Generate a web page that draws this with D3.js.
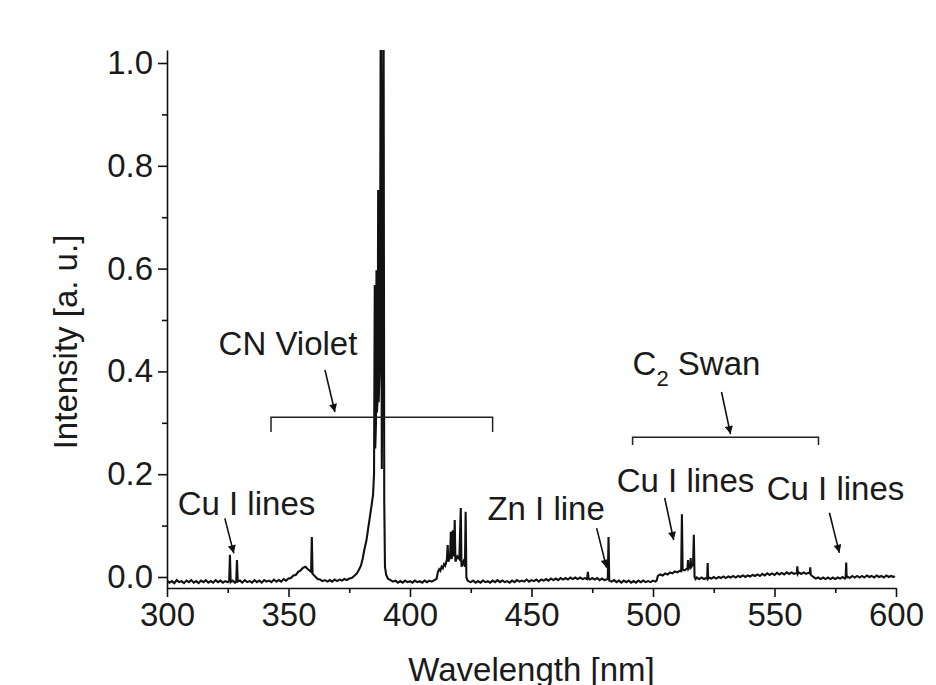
<!DOCTYPE html>
<html>
<head>
<meta charset="utf-8">
<script src="https://cdn.jsdelivr.net/npm/d3@7/dist/d3.min.js"></script>
<style>
  html, body { margin: 0; padding: 0; background: #fff; }
  svg { display: block; }
  text { font-family: "Liberation Sans", Arial, Helvetica, sans-serif; fill: #1a1a1a; }
</style>
</head>
<body>
<svg id="chart" width="936" height="685"></svg>
<script>
// ---- Data: [wavelength nm, intensity a.u.] ----
const spectrum = [
  [300,-0.007],[301,-0.011],[302,-0.008],[303,-0.012],[304,-0.006],[305,-0.010],[306,-0.008],[307,-0.012],
  [308,-0.007],[309,-0.010],[310,-0.006],[311,-0.011],[312,-0.008],[313,-0.012],[314,-0.007],[315,-0.010],
  [316,-0.006],[317,-0.011],[318,-0.008],[319,-0.011],[320,-0.006],[321,-0.010],[322,-0.007],[323,-0.011],
  [324,-0.008],[325,-0.010],[325.6,-0.007],[325.9,0.043],[326.2,-0.010],[327,-0.007],[328,-0.011],[328.5,-0.008],
  [328.8,0.033],[329.1,-0.009],[330,-0.007],[331,-0.011],[332,-0.006],[333,-0.010],[334,-0.008],[335,-0.011],
  [336,-0.006],[337,-0.010],[338,-0.007],[339,-0.011],[340,-0.006],[341,-0.009],[342,-0.007],[343,-0.010],
  [344,-0.005],[345,-0.009],[346,-0.006],[347,-0.009],[348,-0.004],[349,-0.007],[350,-0.003],[351,-0.002],
  [352,0.003],[353,0.004],[354,0.010],[355,0.013],[356,0.018],[357,0.020],[358,0.015],[359.3,0.010],
  [359.6,0.078],[359.9,0.006],[361,0.001],[362,-0.004],[363,-0.005],[364,-0.008],[365,-0.006],[366,-0.009],
  [367,-0.006],[368,-0.009],[369,-0.005],[370,-0.008],[371,-0.005],[372,-0.007],[373,-0.004],[374,-0.006],
  [375,-0.003],[376,-0.002],[377,0.002],[378,0.006],[379,0.014],[379.8,0.022],[380.5,0.035],[381.3,0.055],
  [382.1,0.072],[382.8,0.095],[383.5,0.117],[384.2,0.140],[384.8,0.160],[385.2,0.200],[385.5,0.568],[385.7,0.250],
  [386.0,0.300],[386.2,0.597],[386.4,0.320],[386.7,0.350],[386.9,0.753],[387.1,0.340],[387.6,0.420],[388.0,1.200],
  [388.4,0.210],[388.7,0.500],[389.1,1.200],[389.4,0.150],[389.7,0.020],[390.2,0.004],[391,-0.004],[392,-0.006],
  [393,-0.009],[394,-0.007],[395,-0.011],[396,-0.008],[397,-0.011],[398,-0.007],[399,-0.010],[400,-0.008],
  [401,-0.011],[402,-0.007],[403,-0.010],[404,-0.008],[405,-0.011],[406,-0.007],[407,-0.010],[408,-0.007],
  [409,-0.009],[410,-0.006],[410.9,-0.004],[411.5,0.010],[412,0.015],[412.5,0.012],[413,0.020],[413.5,0.017],
  [414,0.025],[414.5,0.022],[415.2,0.035],[415.5,0.062],[415.8,0.030],[416.5,0.040],[416.8,0.088],[417.1,0.035],
  [417.4,0.045],[417.6,0.091],[417.9,0.040],[418.2,0.050],[418.4,0.111],[418.7,0.030],[419.5,0.040],[420.3,0.035],
  [420.9,0.134],[421.2,0.020],[422.0,0.030],[422.6,0.020],[422.9,0.127],[423.2,0.000],[423.6,-0.006],[424,-0.008],
  [425,-0.010],[426,-0.007],[427,-0.011],[428,-0.008],[429,-0.011],[430,-0.007],[431,-0.010],[432,-0.008],
  [433,-0.011],[434,-0.007],[435,-0.010],[436,-0.006],[437,-0.010],[438,-0.007],[439,-0.010],[440,-0.008],
  [441,-0.011],[442,-0.007],[443,-0.010],[444,-0.006],[445,-0.009],[446,-0.007],[447,-0.009],[448,-0.005],
  [449,-0.009],[450,-0.006],[451,-0.008],[452,-0.005],[453,-0.009],[454,-0.005],[455,-0.007],[456,-0.004],
  [457,-0.007],[458,-0.003],[459,-0.006],[460,-0.003],[461,-0.006],[462,-0.002],[463,-0.005],[464,-0.002],
  [465,-0.005],[466,-0.001],[467,-0.004],[468,-0.001],[469,-0.004],[470,-0.001],[471,-0.004],[472,-0.002],
  [472.9,-0.004],[473.2,0.010],[473.5,-0.003],[474,-0.005],[475,-0.002],[476,-0.005],[477,-0.002],[478,-0.006],
  [479,-0.003],[480,-0.006],[481.4,-0.004],[481.7,0.078],[482.0,-0.007],[483,-0.009],[484,-0.006],[485,-0.010],
  [486,-0.007],[487,-0.011],[488,-0.007],[489,-0.010],[490,-0.007],[491,-0.011],[492,-0.008],[493,-0.011],
  [494,-0.007],[495,-0.010],[496,-0.007],[497,-0.010],[498,-0.008],[499,-0.010],[500,-0.007],[501,-0.009],
  [501.5,-0.007],[502,0.002],[503,0.005],[504,0.003],[505,0.007],[506,0.005],[507,0.009],[508,0.007],
  [509,0.011],[510,0.009],[511,0.012],[511.6,0.011],[511.9,0.122],[512.2,0.014],[513,0.013],[514.2,0.017],
  [514.4,0.033],[514.6,0.016],[515.3,0.021],[515.5,0.037],[515.7,0.019],[516.5,0.025],[516.8,0.082],[517.1,0.000],
  [517.5,-0.004],[518,-0.001],[519,-0.004],[520,-0.001],[521,-0.004],[522,-0.002],[522.3,-0.003],[522.5,0.027],
  [522.7,-0.003],[523,-0.001],[524,-0.003],[525,0.000],[526,-0.003],[527,0.000],[528,-0.002],[529,0.001],
  [530,-0.002],[531,0.001],[532,-0.001],[533,0.002],[534,-0.001],[535,0.002],[536,0.000],[537,0.003],
  [538,0.000],[539,0.003],[540,0.001],[541,0.004],[542,0.002],[543,0.005],[544,0.002],[545,0.006],
  [546,0.003],[547,0.007],[548,0.004],[549,0.007],[550,0.004],[551,0.008],[552,0.005],[553,0.008],
  [554,0.005],[555,0.009],[556,0.006],[557,0.009],[558,0.006],[559.2,0.008],[559.4,0.021],[559.6,0.006],
  [560,0.009],[561,0.006],[562,0.009],[563,0.006],[564,0.008],[564.5,0.007],[564.7,0.019],[564.9,0.005],
  [565.5,0.002],[566,0.000],[567,-0.003],[568,-0.001],[569,-0.004],[570,-0.001],[571,-0.004],[572,-0.001],
  [573,-0.004],[574,-0.001],[575,-0.004],[576,-0.001],[577,-0.003],[578,0.000],[579,-0.003],[579.3,-0.001],
  [579.5,0.028],[579.7,-0.002],[580,0.001],[581,-0.002],[582,0.002],[583,-0.001],[584,0.002],[585,-0.001],
  [586,0.002],[587,-0.001],[588,0.003],[589,0.000],[590,0.002],[591,-0.001],[592,0.003],[593,0.000],
  [594,0.002],[595,-0.001],[596,0.003],[597,0.000],[598,0.002],[599,0.000],[599.5,0.002]
];
const yMajorTicks = [0.0, 0.2, 0.4, 0.6, 0.8, 1.0];
const yMinorTicks = [0.1, 0.3, 0.5, 0.7, 0.9];
const xMajorTicks = [300, 350, 400, 450, 500, 550, 600];
const xMinorTicks = [325, 375, 425, 475, 525, 575];
const xTitle = "Wavelength [nm]";
const yTitle = "Intensity [a. u.]";

// annotation labels: text, wavelength, intensity (anchor = text centre/baseline)
const labelTexts = ["CN Violet", "Cu I lines", "Zn I line", "Cu I lines", "Cu I lines"];
const labelX     = [349.8, 332.7, 456.0, 513.4, 575.1];
const labelY     = [0.432, 0.121, 0.111, 0.165, 0.150];
// arrows: start (wavelength, intensity) -> end
const arrowX1 = [365.0, 323.8, 476.8, 504.8, 572.6, 528.2];
const arrowY1 = [0.403, 0.114, 0.095, 0.154, 0.125, 0.360];
const arrowX2 = [369.1, 327.5, 480.9, 508.5, 576.7, 531.9];
const arrowY2 = [0.321, 0.046, 0.018, 0.072, 0.047, 0.278];
// brackets: from, to, level, drop level
const bracketFrom = [342.8, 491.6];
const bracketTo   = [434.0, 568.1];
const bracketY    = [0.311, 0.272];
const bracketEnd  = [0.282, 0.257];
// C2 Swan label
const swanX = 491.6, swanY = 0.393;

// ---- Chart ----
const svg = d3.select("#chart");
const x = d3.scaleLinear().domain([300, 600]).range([167, 896]);
const y = d3.scaleLinear().domain([-0.0214, 1.0253]).range([588, 50]);

const defs = svg.append("defs");
defs.append("clipPath").attr("id", "plotclip")
  .append("rect").attr("x", x(300)).attr("y", y(1.0253))
  .attr("width", x(600) - x(300)).attr("height", y(-0.0214) - y(1.0253));

const marker = defs.append("marker")
  .attr("id", "arrowhead").attr("viewBox", "0 0 10 10")
  .attr("refX", 10).attr("refY", 5)
  .attr("markerWidth", 11).attr("markerHeight", 8)
  .attr("markerUnits", "userSpaceOnUse")
  .attr("orient", "auto");
marker.append("path").attr("d", "M0,0 L10,5 L0,10 Z").attr("fill", "#111");

const line = d3.line().x(d => x(d[0])).y(d => y(d[1]));

svg.append("path")
  .datum(spectrum)
  .attr("clip-path", "url(#plotclip)")
  .attr("d", line)
  .attr("fill", "none")
  .attr("stroke", "#111")
  .attr("stroke-width", 2.1)
  .attr("stroke-linejoin", "miter");

// Axes
const axisFont = 33;
svg.append("g").attr("transform", `translate(0,${y(-0.0214)})`)
  .call(d3.axisBottom(x).tickValues(xMajorTicks).tickSize(9).tickSizeOuter(0).tickPadding(6).tickFormat(d3.format("d")));
svg.append("g").attr("transform", `translate(0,${y(-0.0214)})`)
  .call(d3.axisBottom(x).tickValues(xMinorTicks).tickSize(5).tickSizeOuter(0).tickFormat(""))
  .select(".domain").remove();

svg.append("g").attr("transform", `translate(${x(300)},0)`)
  .call(d3.axisLeft(y).tickValues(yMajorTicks).tickSize(9).tickSizeOuter(0).tickPadding(5).tickFormat(d3.format(".1f")));
svg.append("g").attr("transform", `translate(${x(300)},0)`)
  .call(d3.axisLeft(y).tickValues(yMinorTicks).tickSize(5).tickSizeOuter(0).tickFormat(""))
  .select(".domain").remove();

svg.selectAll(".domain, .tick line").attr("stroke", "#111").attr("stroke-width", 1.6);
svg.selectAll(".tick text").attr("font-size", axisFont)
  .attr("font-family", "Liberation Sans, Arial, sans-serif").attr("fill", "#1a1a1a");

// Axis titles
svg.append("text").attr("x", (x(300) + x(600)) / 2).attr("y", 681)
  .attr("text-anchor", "middle").attr("font-size", 33).text(xTitle);
svg.append("text")
  .attr("transform", `translate(77,${342}) rotate(-90)`)
  .attr("text-anchor", "middle").attr("font-size", 33).text(yTitle);

// Brackets
bracketFrom.forEach((f, i) => {
  const p = d3.path();
  p.moveTo(x(f), y(bracketEnd[i]));
  p.lineTo(x(f), y(bracketY[i]));
  p.lineTo(x(bracketTo[i]), y(bracketY[i]));
  p.lineTo(x(bracketTo[i]), y(bracketEnd[i]));
  svg.append("path").attr("d", p.toString()).attr("fill", "none")
    .attr("stroke", "#222").attr("stroke-width", 1.5);
});

// Arrows
arrowX1.forEach((a, i) => {
  svg.append("line")
    .attr("x1", x(a)).attr("y1", y(arrowY1[i]))
    .attr("x2", x(arrowX2[i])).attr("y2", y(arrowY2[i]))
    .attr("stroke", "#111").attr("stroke-width", 1.6)
    .attr("marker-end", "url(#arrowhead)");
});

// Labels
labelTexts.forEach((t, i) => {
  svg.append("text").attr("x", x(labelX[i])).attr("y", y(labelY[i]))
    .attr("text-anchor", "middle").attr("font-size", 33).text(t);
});

const swan = svg.append("text").attr("x", x(swanX)).attr("y", y(swanY)).attr("font-size", 33);
swan.append("tspan").text("C");
swan.append("tspan").attr("font-size", 22).attr("dy", 11).text("2");
swan.append("tspan").attr("dy", -11).text(" Swan");
</script>
</body>
</html>
